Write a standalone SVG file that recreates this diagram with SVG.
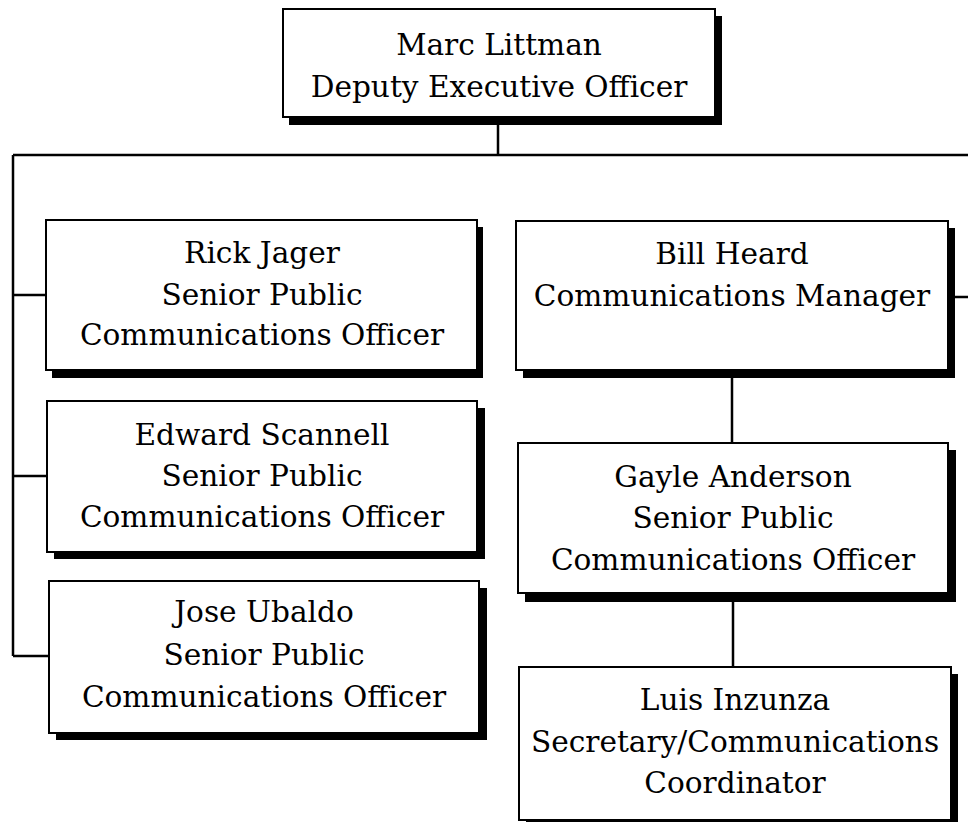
<svg xmlns="http://www.w3.org/2000/svg" width="968" height="822" viewBox="0 0 968 822">
<style>
.shadow{fill:#000}
.box{fill:#fff;stroke:#000;stroke-width:2}
.lbl{font-family:"DejaVu Serif","Liberation Serif",serif;font-size:29.6px;fill:#000;text-anchor:middle}
.conn{fill:none;stroke:#000;stroke-width:2.5}
</style>
<rect width="968" height="822" fill="#fff"/>
<g id="connectors">
<path class="conn" d="M498 124 V155 M13 155 H968 M13 155 V656 M13 295 H46 M13 476 H47 M13 656 H49 M955 297 H968 M732 378 V443 M733 602 V667"/>
</g>
<g id="marc">
<rect class="shadow" x="289" y="16" width="433" height="109"/>
<rect class="box" x="283" y="9" width="432" height="108"/>
<text class="lbl" x="499" y="55">Marc Littman</text>
<text class="lbl" x="499" y="97">Deputy Executive Officer</text>
</g>
<g id="rick">
<rect class="shadow" x="52" y="227" width="431" height="151"/>
<rect class="box" x="46" y="220" width="431" height="150"/>
<text class="lbl" x="262" y="263">Rick Jager</text>
<text class="lbl" x="262" y="305">Senior Public</text>
<text class="lbl" x="262" y="345">Communications Officer</text>
</g>
<g id="edward">
<rect class="shadow" x="54" y="408" width="431" height="151"/>
<rect class="box" x="47" y="401" width="430" height="151"/>
<text class="lbl" x="262" y="445">Edward Scannell</text>
<text class="lbl" x="262" y="486">Senior Public</text>
<text class="lbl" x="262" y="527">Communications Officer</text>
</g>
<g id="jose">
<rect class="shadow" x="56" y="588" width="431" height="152"/>
<rect class="box" x="49" y="581" width="430" height="152"/>
<text class="lbl" x="264" y="622">Jose Ubaldo</text>
<text class="lbl" x="264" y="665">Senior Public</text>
<text class="lbl" x="264" y="707">Communications Officer</text>
</g>
<g id="bill">
<rect class="shadow" x="523" y="228" width="432" height="150"/>
<rect class="box" x="516" y="221" width="432" height="149"/>
<text class="lbl" x="732" y="264">Bill Heard</text>
<text class="lbl" x="732" y="306">Communications Manager</text>
</g>
<g id="gayle">
<rect class="shadow" x="525" y="450" width="431" height="152"/>
<rect class="box" x="518" y="443" width="430" height="150"/>
<text class="lbl" x="733" y="487">Gayle Anderson</text>
<text class="lbl" x="733" y="528">Senior Public</text>
<text class="lbl" x="733" y="570">Communications Officer</text>
</g>
<g id="luis">
<rect class="shadow" x="526" y="674" width="432" height="155"/>
<rect class="box" x="519" y="667" width="432" height="153"/>
<text class="lbl" x="735" y="710">Luis Inzunza</text>
<text class="lbl" x="735" y="752">Secretary/Communications</text>
<text class="lbl" x="735" y="793">Coordinator</text>
</g>
</svg>
